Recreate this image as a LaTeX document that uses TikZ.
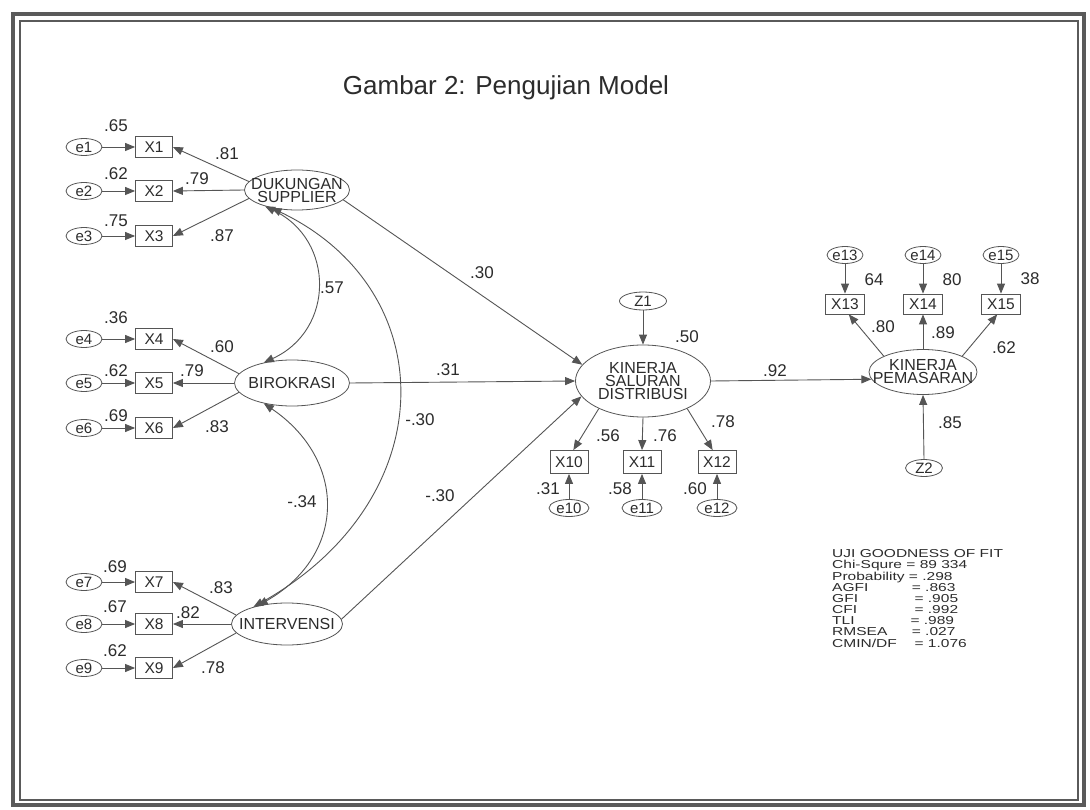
\documentclass[tikz,border=0pt]{standalone}
\usepackage{fontspec}
\setmainfont{Liberation Sans}
\usepackage{graphicx}
\usetikzlibrary{arrows.meta,shapes.geometric}
\definecolor{ink}{HTML}{2C2C2C}
\definecolor{ln}{HTML}{555555}
\definecolor{frm}{HTML}{5A5A5A}
\tikzset{
  err/.style={ellipse, draw=ln, line width=0.8pt, minimum width=36pt, minimum height=17pt, inner sep=0pt, font=\fontsize{15}{15}\selectfont, text=ink},
  obs/.style={rectangle, draw=ln, line width=0.8pt, minimum width=37pt, minimum height=21pt, inner sep=0pt, font=\fontsize{15.5}{15.5}\selectfont, text=ink},
  lat/.style={ellipse, draw=ln, line width=0.8pt, inner sep=0pt},
  ltxt/.style={align=center, inner sep=0pt, font=\fontsize{16}{13}\selectfont, text=ink},
  lbl/.style={font=\fontsize{17}{17}\selectfont, text=ink, inner sep=0pt},
  arr/.style={draw=ln, line width=0.9pt, -{Triangle[length=10pt,width=8pt]}},
  darr/.style={draw=ln, line width=0.9pt, {Triangle[length=10pt,width=8pt]}-{Triangle[length=10pt,width=8pt]}},
}
\begin{document}
\begin{tikzpicture}[x=1pt,y=-1pt]
\useasboundingbox (0,0) rectangle (1090,810);
\fill[white] (0,0) rectangle (1090,810);
% frame
\draw[frm, line width=4pt] (13,14) rectangle (1084,805);
\draw[frm, line width=2pt] (20,21) rectangle (1078,800);

% title
\node[font=\fontsize{26}{26}\selectfont, text=ink, inner sep=0pt, anchor=base] (title) at (506,95) {Gambar 2: Pengujian Model};

% latent variables
\node[lat, minimum width=105pt, minimum height=40pt, label={[ltxt]center:DUKUNGAN\\SUPPLIER}] (DS) at (297,190) {};
\node[lat, minimum width=115pt, minimum height=46pt, label={[ltxt]center:BIROKRASI}] (BIR) at (292,383) {};
\node[lat, minimum width=111pt, minimum height=42pt, label={[ltxt]center:INTERVENSI}] (INT) at (287,624) {};
\node[lat, minimum width=135pt, minimum height=72pt, label={[ltxt]center:KINERJA\\SALURAN\\DISTRIBUSI}] (KSD) at (643,381) {};
\node[lat, minimum width=108pt, minimum height=45pt, label={[ltxt]center:KINERJA\\PEMASARAN}] (KP) at (923,372) {};
\node[err, minimum width=47pt, minimum height=18pt] (Z1) at (643,301) {Z1};
\node[err, minimum width=37pt] (Z2) at (924,468) {Z2};

% indicators left
\foreach \i/\y in {1/147,2/191,3/236,4/339,5/383,6/428,7/582,8/624,9/668}{
  \node[obs] (X\i) at (154,\y) {X\i};
  \node[err] (e\i) at (84,\y) {e\i};
  \draw[arr] (e\i.east) -- (X\i.west);
}
% indicators KSD
\foreach \i/\x in {10/569,11/642,12/717}{
  \node[obs, minimum width=38pt, minimum height=23pt] (X\i) at (\x,462) {X\i};
  \node[err, minimum width=40pt] (e\i) at (\x,508) {e\i};
  \draw[arr] (e\i.north) -- (X\i.south);
}
% indicators KP
\foreach \i/\x in {13/845,14/923,15/1001}{
  \node[obs, minimum width=39pt, minimum height=20pt] (X\i) at (\x,304) {X\i};
  \node[err] (e\i) at (\x,255) {e\i};
  \draw[arr] (e\i.south) -- (X\i.north);
}

% loadings
\draw[arr] (DS.170) -- (X1.east);
\draw[arr] (DS.west) -- (X2.east);
\draw[arr] (DS.190) -- (X3.east);
\draw[arr] (BIR.170) -- (X4.east);
\draw[arr] (BIR.west) -- (X5.east);
\draw[arr] (BIR.190) -- (X6.east);
\draw[arr] (INT.170) -- (X7.east);
\draw[arr] (INT.west) -- (X8.east);
\draw[arr] (INT.190) -- (X9.east);
\draw[arr] (KSD.212) -- (X10.70);
\draw[arr] (KSD.south) -- (X11.north);
\draw[arr] (KSD.-32) -- (X12.110);
\draw[arr] (KP.158) -- (X13.-70);
\draw[arr] (KP.north) -- (X14.south);
\draw[arr] (KP.22) -- (X15.-110);

% structural paths
\draw[arr] (DS.-12) -- (KSD.165);
\draw[arr] (BIR.east) -- (KSD.west);
\draw[arr] (INT.5) -- (KSD.194);
\draw[arr] (KSD.east) -- (KP.188);
\draw[arr] (Z1.south) -- (KSD.north);
\draw[arr] (Z2.north) -- (KP.south);

% correlations
\draw[darr] (DS.207) .. controls (335,240) and (335,330) .. (BIR.144);
\draw[darr] (BIR.216) .. controls (347,460) and (347,555) .. (INT.148);
\draw[darr] (DS.215) .. controls (444,290) and (444,500) .. (INT.153);

% labels
\node[lbl] (l1) at (116,126) {.65};
\node[lbl] (l2) at (116,174) {.62};
\node[lbl] (l3) at (116,221) {.75};
\node[lbl] (l4) at (116,318) {.36};
\node[lbl] (l5) at (116,371) {.62};
\node[lbl] (l6) at (116,416) {.69};
\node[lbl] (l7) at (115,567) {.69};
\node[lbl] (l8) at (115,607) {.67};
\node[lbl] (l9) at (115,651) {.62};
\node[lbl] (m1) at (227,154) {.81};
\node[lbl] (m2) at (197,179) {.79};
\node[lbl] (m3) at (222,236) {.87};
\node[lbl] (m4) at (222,347) {.60};
\node[lbl] (m5) at (192,371) {.79};
\node[lbl] (m6) at (217,427) {.83};
\node[lbl] (m7) at (221,588) {.83};
\node[lbl] (m8) at (188,613) {.82};
\node[lbl] (m9) at (213,668) {.78};
\node[lbl] (c1) at (332,288) {.57};
\node[lbl] (c2) at (302,502) {-.34};
\node[lbl] (c3) at (420,420) {-.30};
\node[lbl] (p1) at (482,273) {.30};
\node[lbl] (p2) at (448,370) {.31};
\node[lbl] (p3) at (440,496) {-.30};
\node[lbl] (p4) at (775,371) {.92};
\node[lbl] (r1) at (687,337) {.50};
\node[lbl] (k1) at (608,436) {.56};
\node[lbl] (k2) at (665,436) {.76};
\node[lbl] (k3) at (723,422) {.78};
\node[lbl] (k4) at (548,489) {.31};
\node[lbl] (k5) at (620,489) {.58};
\node[lbl] (k6) at (695,489) {.60};
\node[lbl] (q1) at (874,280) {64};
\node[lbl] (q2) at (952,280) {80};
\node[lbl] (q3) at (1030,279) {38};
\node[lbl] (q4) at (883,327) {.80};
\node[lbl] (q5) at (943,333) {.89};
\node[lbl] (q6) at (1004,348) {.62};
\node[lbl] (q7) at (950,423) {.85};

% fit statistics
\node[anchor=north west, inner sep=0pt, text=ink, font=\fontsize{11.5}{10.4}\selectfont] (fit) at (832,549)
{\scalebox{1.35}[1]{\begin{tabular}{@{}l@{}}
UJI GOODNESS OF FIT\\
Chi-Squre = 89 334\\
Probability = .298\\
\makebox[59pt][l]{AGFI}= .863\\
\makebox[61pt][l]{GFI}= .905\\
\makebox[61pt][l]{CFI}= .992\\
\makebox[58pt][l]{TLI}= .989\\
\makebox[59pt][l]{RMSEA}= .027\\
\makebox[61pt][l]{CMIN/DF}= 1.076
\end{tabular}}};
\end{tikzpicture}
\end{document}
